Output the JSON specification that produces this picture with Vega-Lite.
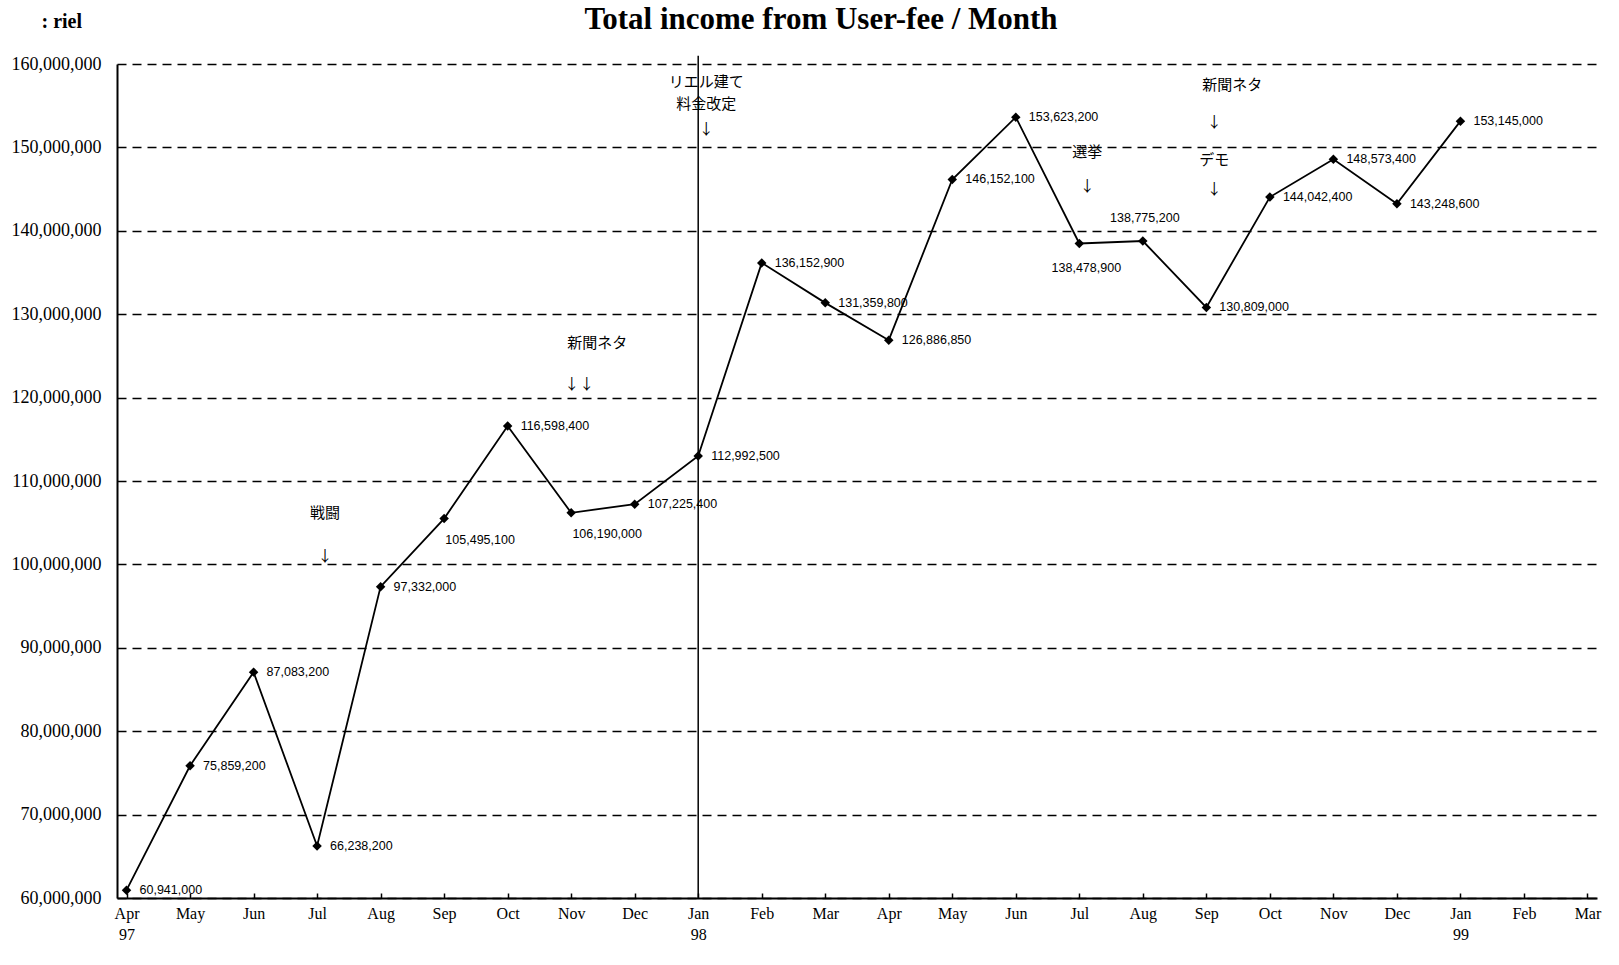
{
  "$schema": "https://vega.github.io/schema/vega-lite/v6.json",
  "autosize": "none",
  "width": 1480,
  "height": 834,
  "padding": {"left": 117, "top": 64, "right": 22, "bottom": 67},
  "background": "white",
  "config": {"view": {"stroke": null}, "font": "Liberation Serif"},
  "title": {
    "text": "Total income from User-fee / Month",
    "font": "Liberation Serif",
    "fontSize": 31,
    "fontWeight": "bold",
    "color": "black",
    "anchor": "middle",
    "baseline": "bottom",
    "dx": -36,
    "dy": 56,
    "offset": 0
  },
  "datasets": {
    "income": [
      {"month": "1997-04", "income": 60941000},
      {"month": "1997-05", "income": 75859200},
      {"month": "1997-06", "income": 87083200},
      {"month": "1997-07", "income": 66238200},
      {"month": "1997-08", "income": 97332000},
      {"month": "1997-09", "income": 105495100},
      {"month": "1997-10", "income": 116598400},
      {"month": "1997-11", "income": 106190000},
      {"month": "1997-12", "income": 107225400},
      {"month": "1998-01", "income": 112992500},
      {"month": "1998-02", "income": 136152900},
      {"month": "1998-03", "income": 131359800},
      {"month": "1998-04", "income": 126886850},
      {"month": "1998-05", "income": 146152100},
      {"month": "1998-06", "income": 153623200},
      {"month": "1998-07", "income": 138478900},
      {"month": "1998-08", "income": 138775200},
      {"month": "1998-09", "income": 130809000},
      {"month": "1998-10", "income": 144042400},
      {"month": "1998-11", "income": 148573400},
      {"month": "1998-12", "income": 143248600},
      {"month": "1999-01", "income": 153145000}
    ],
    "notes": [
      {"month": "1997-07", "value": 106200000, "note": "戦闘", "group": "near"},
      {"month": "1997-07", "value": 101000000, "note": "↓", "group": "near"},
      {"month": "1997-11", "value": 126600000, "note": "新聞ネタ", "group": "far"},
      {"month": "1997-11", "value": 121600000, "note": "↓↓", "group": "near"},
      {"month": "1998-01", "value": 157900000, "note": "リエル建て", "group": "near"},
      {"month": "1998-01", "value": 155200000, "note": "料金改定", "group": "near"},
      {"month": "1998-01", "value": 152200000, "note": "↓", "group": "near"},
      {"month": "1998-07", "value": 149400000, "note": "選挙", "group": "near"},
      {"month": "1998-07", "value": 145400000, "note": "↓", "group": "near"},
      {"month": "1998-09", "value": 157500000, "note": "新聞ネタ", "group": "far"},
      {"month": "1998-09", "value": 153100000, "note": "↓", "group": "near"},
      {"month": "1998-09", "value": 148500000, "note": "デモ", "group": "near"},
      {"month": "1998-09", "value": 145000000, "note": "↓", "group": "near"}
    ],
    "vline": [{"month": "1998-01", "top": 161000000, "bottom": 60000000}]
  },
  "encoding": {
    "x": {
      "field": "month",
      "type": "ordinal",
      "scale": {
        "type": "point",
        "padding": 0.15,
        "domain": ["1997-04","1997-05","1997-06","1997-07","1997-08","1997-09","1997-10","1997-11","1997-12","1998-01","1998-02","1998-03","1998-04","1998-05","1998-06","1998-07","1998-08","1998-09","1998-10","1998-11","1998-12","1999-01","1999-02","1999-03"]
      },
      "axis": {
        "title": null,
        "labelAngle": 0,
        "labelFont": "Liberation Serif",
        "labelFontSize": 16,
        "labelColor": "black",
        "labelPadding": 12,
        "labelLineHeight": 21,
        "domainColor": "black",
        "domainWidth": 2,
        "tickColor": "black",
        "tickSize": -5,
        "tickWidth": 1.5,
        "grid": false,
        "labelExpr": "(datum.value == '1997-04' || substring(datum.value,5,7) == '01') ? [['Jan','Feb','Mar','Apr','May','Jun','Jul','Aug','Sep','Oct','Nov','Dec'][toNumber(substring(datum.value,5,7))-1], substring(datum.value,2,4)] : ['Jan','Feb','Mar','Apr','May','Jun','Jul','Aug','Sep','Oct','Nov','Dec'][toNumber(substring(datum.value,5,7))-1]"
      }
    }
  },
  "layer": [
    {
      "data": {"name": "income"},
      "mark": {"type": "line", "color": "black", "strokeWidth": 1.8},
      "encoding": {
        "y": {
          "field": "income",
          "type": "quantitative",
          "scale": {"domain": [60000000, 160000000], "nice": false, "zero": false},
          "axis": {
            "title": ": riel",
            "titleAngle": 0,
            "titleAlign": "left",
            "titleBaseline": "middle",
            "titleX": -76,
            "titleY": -43,
            "titleFont": "Liberation Serif",
            "titleFontSize": 20,
            "titleFontWeight": "bold",
            "titleColor": "black",
            "values": [60000000,70000000,80000000,90000000,100000000,110000000,120000000,130000000,140000000,150000000,160000000],
            "format": ",d",
            "labelFont": "Liberation Serif",
            "labelFontSize": 18,
            "labelColor": "black",
            "labelPadding": 16,
            "ticks": false,
            "domainColor": "black",
            "domainWidth": 2,
            "grid": true,
            "gridColor": "black",
            "gridDash": [9, 6],
            "gridWidth": 1.5
          }
        }
      }
    },
    {
      "data": {"name": "vline"},
      "mark": {"type": "rule", "color": "black", "strokeWidth": 1.5},
      "encoding": {
        "y": {"field": "top", "type": "quantitative"},
        "y2": {"field": "bottom"}
      }
    },
    {
      "data": {"name": "income"},
      "mark": {"type": "point", "shape": "diamond", "filled": true, "color": "black", "size": 90, "opacity": 1},
      "encoding": {"y": {"field": "income", "type": "quantitative"}}
    },
    {
      "data": {"name": "income"},
      "transform": [{"filter": {"not": {"field": "month", "oneOf": ["1997-09", "1997-11", "1998-07", "1998-08"]}}}],
      "mark": {"type": "text", "align": "left", "baseline": "middle", "dx": 13, "font": "Liberation Sans", "fontSize": 12.5, "color": "black"},
      "encoding": {
        "y": {"field": "income", "type": "quantitative"},
        "text": {"field": "income", "type": "quantitative", "format": ",d"}
      }
    },
    {
      "data": {"name": "income"},
      "transform": [{"filter": {"field": "month", "oneOf": ["1997-09", "1997-11"]}}],
      "mark": {"type": "text", "align": "center", "baseline": "middle", "dx": 36, "dy": 21, "font": "Liberation Sans", "fontSize": 12.5, "color": "black"},
      "encoding": {
        "y": {"field": "income", "type": "quantitative"},
        "text": {"field": "income", "type": "quantitative", "format": ",d"}
      }
    },
    {
      "data": {"name": "income"},
      "transform": [{"filter": {"field": "month", "oneOf": ["1998-07"]}}],
      "mark": {"type": "text", "align": "center", "baseline": "middle", "dx": 7, "dy": 25, "font": "Liberation Sans", "fontSize": 12.5, "color": "black"},
      "encoding": {
        "y": {"field": "income", "type": "quantitative"},
        "text": {"field": "income", "type": "quantitative", "format": ",d"}
      }
    },
    {
      "data": {"name": "income"},
      "transform": [{"filter": {"field": "month", "oneOf": ["1998-08"]}}],
      "mark": {"type": "text", "align": "center", "baseline": "middle", "dx": 2, "dy": -23, "font": "Liberation Sans", "fontSize": 12.5, "color": "black"},
      "encoding": {
        "y": {"field": "income", "type": "quantitative"},
        "text": {"field": "income", "type": "quantitative", "format": ",d"}
      }
    },
    {
      "data": {"name": "notes"},
      "transform": [{"filter": "datum.group != 'far'"}],
      "mark": {"type": "text", "align": "center", "baseline": "middle", "dx": 8, "font": "Noto Sans CJK JP", "fontSize": 15, "color": "black"},
      "encoding": {
        "y": {"field": "value", "type": "quantitative"},
        "text": {"field": "note"}
      }
    },
    {
      "data": {"name": "notes"},
      "transform": [{"filter": "datum.group == 'far'"}],
      "mark": {"type": "text", "align": "center", "baseline": "middle", "dx": 26, "font": "Noto Sans CJK JP", "fontSize": 15, "color": "black"},
      "encoding": {
        "y": {"field": "value", "type": "quantitative"},
        "text": {"field": "note"}
      }
    }
  ]
}
